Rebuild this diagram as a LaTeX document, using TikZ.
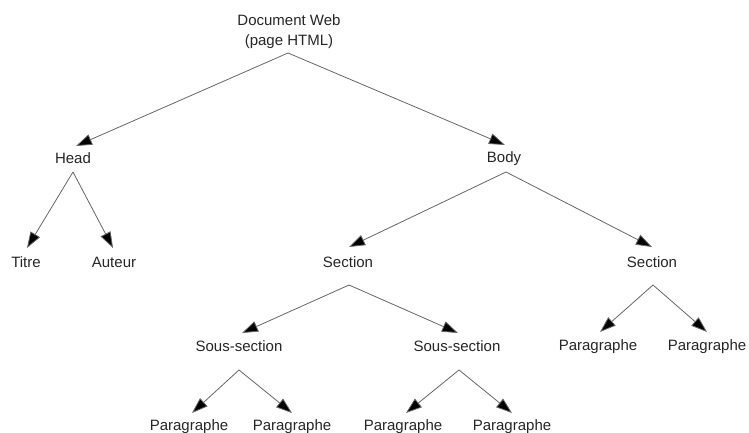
\documentclass[tikz,border=0pt]{standalone}
\usepackage{fontspec}
\setmainfont{Liberation Sans}
\usetikzlibrary{arrows.meta}
\begin{document}
\begin{tikzpicture}[x=1pt,y=1pt,
  label/.style={inner sep=0pt, text=black!85, font=\fontsize{15}{20}\selectfont, align=center},
  edge/.style={draw=black!60, line width=0.8pt, -{Triangle[length=16pt,width=11pt,fill=black]}}]
\useasboundingbox (0,0) rectangle (749,433);
\fill[white] (0,0) rectangle (749,433);

% text nodes (y measured upward)
\node[label] (root) at (289,401) {Document Web\\(page HTML)};
\node[label] (head) at (73,275) {Head};
\node[label] (body) at (504,274) {Body};
\node[label] (titre) at (26,171) {Titre};
\node[label] (auteur) at (114,171) {Auteur};
\node[label] (sec1) at (348,171) {Section};
\node[label] (sec2) at (652,171) {Section};
\node[label] (sous1) at (239,87) {Sous-section};
\node[label] (sous2) at (457,87) {Sous-section};
\node[label] (p5) at (598,86) {Paragraphe};
\node[label] (p6) at (707,86) {Paragraphe};
\node[label] (p1) at (189,6) {Paragraphe};
\node[label] (p2) at (292,6) {Paragraphe};
\node[label] (p3) at (403,6) {Paragraphe};
\node[label] (p4) at (512,6) {Paragraphe};

% where edges leave a parent and reach a child
\coordinate (root-out) at (288,380);
\coordinate (head-out) at (73,261);
\coordinate (body-out) at (506,261);
\coordinate (sec1-out) at (349,148);
\coordinate (sec2-out) at (653,148);
\coordinate (sous1-out) at (239,63);
\coordinate (sous2-out) at (459,63);

\coordinate (head-in) at (76,287);
\coordinate (body-in) at (505,288);
\coordinate (titre-in) at (27,185);
\coordinate (auteur-in) at (113,185);
\coordinate (sec1-in) at (349,186);
\coordinate (sec2-in) at (652,186);
\coordinate (sous1-in) at (242,100);
\coordinate (sous2-in) at (458,100);
\coordinate (p5-in) at (600,101);
\coordinate (p6-in) at (707,101);
\coordinate (p1-in) at (192,20);
\coordinate (p2-in) at (292,20);
\coordinate (p3-in) at (406,20);
\coordinate (p4-in) at (512,20);

\draw[edge] (root-out) -- (head-in);
\draw[edge] (root-out) -- (body-in);
\draw[edge] (head-out) -- (titre-in);
\draw[edge] (head-out) -- (auteur-in);
\draw[edge] (body-out) -- (sec1-in);
\draw[edge] (body-out) -- (sec2-in);
\draw[edge] (sec1-out) -- (sous1-in);
\draw[edge] (sec1-out) -- (sous2-in);
\draw[edge] (sec2-out) -- (p5-in);
\draw[edge] (sec2-out) -- (p6-in);
\draw[edge] (sous1-out) -- (p1-in);
\draw[edge] (sous1-out) -- (p2-in);
\draw[edge] (sous2-out) -- (p3-in);
\draw[edge] (sous2-out) -- (p4-in);
\end{tikzpicture}
\end{document}
